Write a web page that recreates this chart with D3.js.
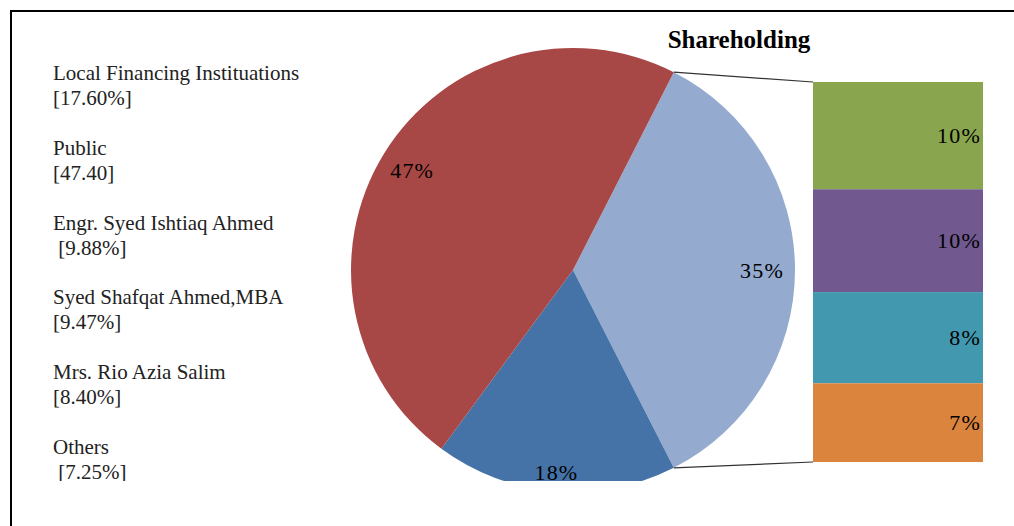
<!DOCTYPE html>
<html><head><meta charset="utf-8">
<script src="https://cdn.jsdelivr.net/npm/d3@7"></script>
<style>html,body{margin:0;padding:0;background:#fff;}svg{display:block;}</style>
</head><body>
<script>
// ---- data ----
const mainCategories = ["Other", "Local Financing Instituations", "Public"];
const mainValues = [35.00, 17.60, 47.40];
const mainLabels = ["35%", "18%", "47%"];
const subCategories = ["Engr. Syed Ishtiaq Ahmed", "Syed Shafqat Ahmed,MBA", "Mrs. Rio Azia Salim", "Others"];
const subValues = [9.88, 9.47, 8.40, 7.25];
const subLabels = ["10%", "10%", "8%", "7%"];
const legendNames = ["Local Financing Instituations", "Public", "Engr. Syed Ishtiaq Ahmed", "Syed Shafqat Ahmed,MBA", "Mrs. Rio Azia Salim", "Others"];
const legendValues = ["[17.60%]", "[47.40]", " [9.88%]", "[9.47%]", "[8.40%]", " [7.25%]"];
const title = "Shareholding";

// ---- styles ----
const mainColors = ["#94AACF", "#4573A7", "#A84846"];
const subColors = ["#89A54E", "#71588F", "#4198AF", "#DB843D"];
const W = 1014, H = 526;
const cx = 573, cy = 270, R = 222;
const barX0 = 813, barX1 = 983, barY0 = 82, barY1 = 462;
const serif = "'Liberation Serif','Times New Roman',serif";

const svg = d3.select("body").append("svg").attr("width", W).attr("height", H);

// frame
svg.append("line").attr("x1", 10).attr("x2", W).attr("y1", 11).attr("y2", 11).attr("stroke", "#000").attr("stroke-width", 2);
svg.append("line").attr("x1", 11).attr("x2", 11).attr("y1", 10).attr("y2", H).attr("stroke", "#000").attr("stroke-width", 2);

svg.append("defs").append("clipPath").attr("id", "plotclip")
  .append("rect").attr("x", 12).attr("y", 12).attr("width", W).attr("height", 481 - 12);

const g = svg.append("g").attr("clip-path", "url(#plotclip)");

// pie
const otherAngle = mainValues[0] / d3.sum(mainValues) * 2 * Math.PI;
const pie = d3.pie().sort(null).value(d => d)
  .startAngle(Math.PI / 2 - otherAngle / 2).endAngle(Math.PI / 2 - otherAngle / 2 + 2 * Math.PI);
const arcs = pie(mainValues);
const arc = d3.arc().innerRadius(0).outerRadius(R);
const pg = g.append("g").attr("transform", `translate(${cx},${cy})`);
pg.selectAll("path").data(arcs).join("path").attr("d", arc).attr("fill", (d, i) => mainColors[i]);
pg.selectAll("text").data(arcs).join("text")
  .attr("transform", (d, i) => {
    const a = (d.startAngle + d.endAngle) / 2;
    const r = i === 1 ? 203 : 189;
    return `translate(${Math.sin(a) * r},${-Math.cos(a) * r})`;
  })
  .attr("text-anchor", "middle").attr("dy", "0.35em")
  .style("font-family", serif).style("font-size", "22px").style("letter-spacing", "1.2px").attr("fill", "#000")
  .text((d, i) => mainLabels[i]);

// bar of pie
const y = d3.scaleLinear().domain([0, d3.sum(subValues)]).range([barY0, barY1]);
const cum = subValues.map((v, i) => d3.sum(subValues.slice(0, i)));
g.selectAll("rect.seg").data(subValues).join("rect").attr("class", "seg")
  .attr("x", barX0).attr("width", barX1 - barX0)
  .attr("y", (d, i) => y(cum[i])).attr("height", d => y(d) - y(0))
  .attr("fill", (d, i) => subColors[i]);
g.selectAll("text.seg").data(subValues).join("text").attr("class", "seg")
  .attr("x", barX1 - 2).attr("y", (d, i) => y(cum[i] + d / 2)).attr("dy", "0.35em")
  .attr("text-anchor", "end")
  .style("font-family", serif).style("font-size", "22px").style("letter-spacing", "1.2px")
  .text((d, i) => subLabels[i]);

// connector lines
const a0 = arcs[0].startAngle, a1 = arcs[0].endAngle;
g.append("line").attr("x1", cx + Math.sin(a0) * R).attr("y1", cy - Math.cos(a0) * R)
  .attr("x2", barX0).attr("y2", y(0)).attr("stroke", "#333").attr("stroke-width", 1.2);
g.append("line").attr("x1", cx + Math.sin(a1) * R).attr("y1", cy - Math.cos(a1) * R)
  .attr("x2", barX0).attr("y2", y(d3.sum(subValues))).attr("stroke", "#333").attr("stroke-width", 1.2);

// title
svg.append("text").attr("x", 739).attr("y", 48).attr("text-anchor", "middle")
  .style("font-family", serif).style("font-weight", "bold").style("font-size", "25px").text(title);

// legend (text only)
const lg = g.append("g");
legendNames.forEach((name, i) => {
  const by = 80 + i * 74.8;
  lg.append("text").attr("x", 53).attr("y", by).style("font-family", serif).style("font-size", "21px")
    .style("white-space", "pre").attr("fill", "#222").text(name);
  lg.append("text").attr("x", 53).attr("y", by + 25).style("font-family", serif).style("font-size", "21px")
    .style("white-space", "pre").attr("fill", "#222").text(legendValues[i]);
});
</script>
</body></html>
